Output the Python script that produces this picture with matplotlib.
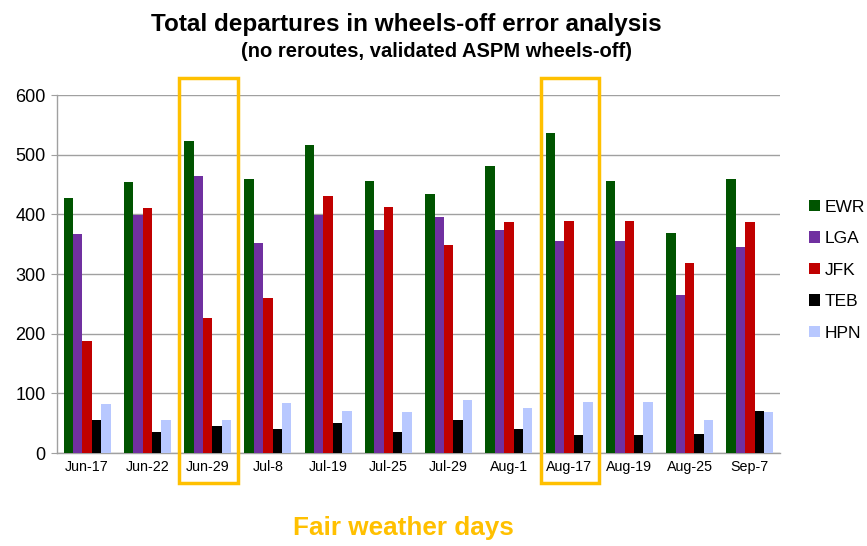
import numpy as np
import matplotlib
matplotlib.use("Agg")
import matplotlib.pyplot as plt
import matplotlib.transforms as mtransforms
from matplotlib.patches import Rectangle

plt.rcParams['font.family'] = ['Liberation Sans', 'DejaVu Sans']

# data
dates = ["Jun-17", "Jun-22", "Jun-29", "Jul-8", "Jul-19", "Jul-25",
         "Jul-29", "Aug-1", "Aug-17", "Aug-19", "Aug-25", "Sep-7"]
ewr = [428, 455, 523, 459, 517, 456, 434, 481, 537, 456, 369, 460]
lga = [367, 399, 464, 352, 399, 373, 395, 373, 355, 355, 264, 345]
jfk = [187, 410, 226, 260, 431, 412, 348, 388, 389, 389, 318, 388]
teb = [56, 36, 45, 40, 50, 35, 56, 41, 30, 30, 32, 70]
hpn = [82, 55, 56, 83, 70, 68, 89, 76, 85, 85, 56, 68]
airports = ["EWR", "LGA", "JFK", "TEB", "HPN"]
fair_days = ["Jun-29", "Aug-17"]

colors = ["#005400", "#7030A0", "#C00000", "#000000", "#B8C8FF"]
gold = "#FFC000"

fig = plt.figure(figsize=(8.67, 5.46), dpi=100)
ax = fig.add_axes([0.0657, 0.1703, 0.834, 0.6557])

x = np.arange(len(dates))
w = 0.156
series = [ewr, lga, jfk, teb, hpn]
for i, (vals, name, c) in enumerate(zip(series, airports, colors)):
    ax.bar(x + (i - 2) * w, vals, width=w, color=c, label=name, zorder=3)

ax.set_xlim(-0.5, len(dates) - 0.5)
ax.set_ylim(0, 600)
ax.set_yticks(range(0, 601, 100))
ax.set_xticks(x)
ax.set_xticklabels(dates, fontsize=10.3)
ax.tick_params(axis='y', labelsize=13, length=4, color='#A0A0A0', pad=4)
ax.tick_params(axis='x', length=0, pad=5)
ax.grid(axis='y', color='#A0A0A0', linewidth=1, zorder=0)
for s in ['top', 'right']:
    ax.spines[s].set_visible(False)
for s in ['left', 'bottom']:
    ax.spines[s].set_color('#A0A0A0')
    ax.spines[s].set_linewidth(1)

# highlight boxes for fair weather days
trans = mtransforms.blended_transform_factory(ax.transData, fig.transFigure)
for d in fair_days:
    i = dates.index(d)
    r = Rectangle((i - 0.47, 0.1154), 0.97, 0.857 - 0.1154, transform=trans,
                  fill=False, edgecolor=gold, linewidth=2.5, clip_on=False, zorder=5)
    ax.add_patch(r)

leg = ax.legend(loc='center left', bbox_to_anchor=(0.925, 0.505),
                bbox_transform=fig.transFigure, frameon=False, fontsize=12.5,
                handlelength=0.65, handleheight=0.65, handletextpad=0.25,
                labelspacing=0.95, borderaxespad=0)

fig.text(0.469, 0.943, "Total departures in wheels-off error analysis",
         ha='center', va='baseline', fontsize=17.5, fontweight='bold')
fig.text(0.503, 0.896, "(no reroutes, validated ASPM wheels-off)",
         ha='center', va='baseline', fontsize=14.5, fontweight='bold')
fig.text(0.465, 0.021, "Fair weather days", ha='center', va='baseline',
         fontsize=18.8, fontweight='bold', color=gold)

fig.savefig("out.png", dpi=100)
